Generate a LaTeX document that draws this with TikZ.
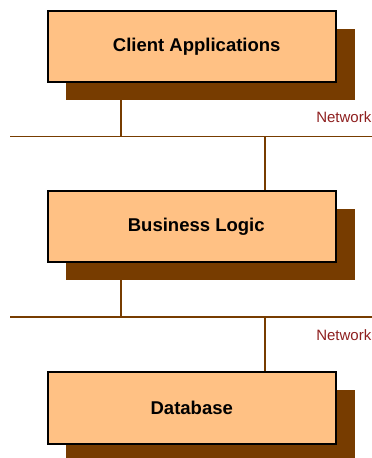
\documentclass[tikz,border=0pt]{standalone}
\usepackage{fontspec}
\setmainfont{Liberation Sans}
\usetikzlibrary{shadows}

\definecolor{boxfill}{HTML}{FFC184}
\definecolor{shadowbrown}{HTML}{773C00}
\definecolor{netred}{HTML}{8E1F1F}

\tikzset{
  tier/.style={draw=black, line width=2pt, fill=boxfill,
    minimum width=288.5pt, minimum height=71pt, inner sep=0pt,
    font=\fontsize{18.5}{20}\selectfont\bfseries,
    drop shadow={shadow xshift=18.5pt, shadow yshift=-18pt,
      opacity=1, fill=shadowbrown}},
  wire/.style={draw=shadowbrown, line width=1.8pt},
  netlabel/.style={text=netred, anchor=base east, inner sep=0pt,
    font=\fontsize{15}{17}\selectfont},
}

\begin{document}
\begin{tikzpicture}[x=1pt, y=-1pt]
  \useasboundingbox (0,0) rectangle (372,458);
  \clip (0,0) rectangle (372,458);

  % network buses and their tap points
  \coordinate (busAw) at (10,136.5);
  \coordinate (busAe) at (380,136.5);
  \coordinate (tapA1) at (121,136.5);
  \coordinate (tapA2) at (265,136.5);
  \coordinate (busBw) at (10,316.7);
  \coordinate (busBe) at (380,316.7);
  \coordinate (tapB1) at (121,316.7);
  \coordinate (tapB2) at (265,316.7);

  \draw[wire] (busAw) -- (busAe);
  \draw[wire] (busBw) -- (busBe);

  % the three tiers
  \node[tier] (client) at (191.75,46.75) {\kern10pt Client Applications};
  \node[tier] (logic)  at (191.75,226.7) {\kern9pt Business Logic};
  \node[tier, minimum height=72pt] (db) at (191.75,408) {Database};

  % links from tiers to the buses
  \draw[wire] (tapA1 |- client.south) -- (tapA1);
  \draw[wire] (tapA2) -- (tapA2 |- logic.north);
  \draw[wire] (tapB1 |- logic.south) -- (tapB1);
  \draw[wire] (tapB2) -- (tapB2 |- db.north);

  % bus labels
  \node[netlabel] (netA) at (371.5,122.5) {Network};
  \node[netlabel] (netB) at (371.5,340.7) {Network};
\end{tikzpicture}
\end{document}
